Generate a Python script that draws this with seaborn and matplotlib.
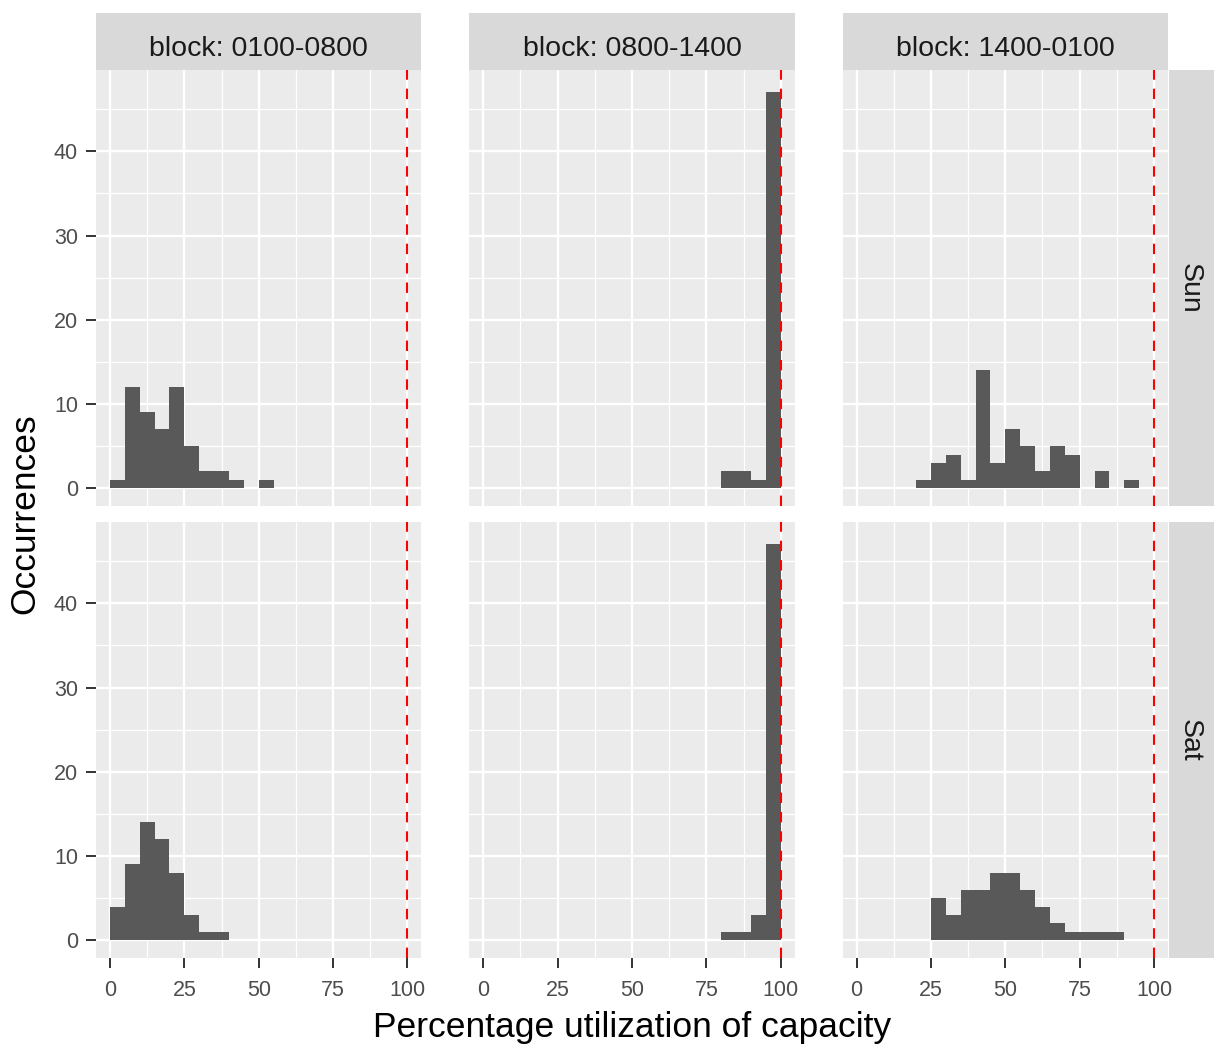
import numpy as np
import pandas as pd
import matplotlib
matplotlib.use("Agg")
import matplotlib.pyplot as plt
from matplotlib.patches import Rectangle
from matplotlib.ticker import MultipleLocator
import seaborn as sns

# Weekly utilisation histograms: counts per 5-point bin (0-100 %)
bin_edges = list(range(0, 105, 5))
blocks = ["0100-0800", "0800-1400", "1400-0100"]
days = ["Sun", "Sat"]

sun_0100_0800 = [1, 12, 9, 7, 12, 5, 2, 2, 1, 0, 1, 0, 0, 0, 0, 0, 0, 0, 0, 0]
sun_0800_1400 = [0, 0, 0, 0, 0, 0, 0, 0, 0, 0, 0, 0, 0, 0, 0, 0, 2, 2, 1, 47]
sun_1400_0100 = [0, 0, 0, 0, 1, 3, 4, 1, 14, 3, 7, 5, 2, 5, 4, 0, 2, 0, 1, 0]
sat_0100_0800 = [4, 9, 14, 12, 8, 3, 1, 1, 0, 0, 0, 0, 0, 0, 0, 0, 0, 0, 0, 0]
sat_0800_1400 = [0, 0, 0, 0, 0, 0, 0, 0, 0, 0, 0, 0, 0, 0, 0, 0, 1, 1, 3, 47]
sat_1400_0100 = [0, 0, 0, 0, 0, 5, 3, 6, 6, 8, 8, 6, 4, 2, 1, 1, 1, 1, 0, 0]

capacity_line = 100
x_ticks = [0, 25, 50, 75, 100]
y_ticks = [0, 10, 20, 30, 40]

counts = {
    ("Sun", "0100-0800"): sun_0100_0800,
    ("Sun", "0800-1400"): sun_0800_1400,
    ("Sun", "1400-0100"): sun_1400_0100,
    ("Sat", "0100-0800"): sat_0100_0800,
    ("Sat", "0800-1400"): sat_0800_1400,
    ("Sat", "1400-0100"): sat_1400_0100,
}

mids = [(a + b) / 2 for a, b in zip(bin_edges[:-1], bin_edges[1:])]
rows = []
for (day, block), vals in counts.items():
    for m, c in zip(mids, vals):
        rows.append({"day": day, "block": block, "util": m, "n": c})
df = pd.DataFrame(rows)

sns.set_theme(style="darkgrid")
plt.rcParams["font.family"] = ["Liberation Sans", "DejaVu Sans"]

W, H = 1214, 1047
g = sns.FacetGrid(df, row="day", col="block", row_order=days, col_order=blocks,
                  sharex=True, sharey=True, despine=False, margin_titles=False)
g.map_dataframe(sns.histplot, x="util", weights="n", bins=bin_edges,
                color="#595959", alpha=1, linewidth=0, edgecolor="none")
g.figure.set_size_inches(W / 100, H / 100)
g.figure.set_dpi(100)
g.set_titles("")
g.set_axis_labels("", "")

left, right, top, bottom = 96 / W, 1168 / W, 1 - 70 / H, 1 - 958 / H
g.figure.subplots_adjust(left=left, right=right, top=top, bottom=bottom,
                         wspace=48 / 326, hspace=16 / 437)

tick_col = "#4D4D4D"
for (ri, ci), ax in np.ndenumerate(g.axes):
    ax.set_facecolor("#EBEBEB")
    for s in ax.spines.values():
        s.set_visible(False)
    ax.set_xlim(-4.7, 104.7)
    ax.set_ylim(-2.1, 49.65)
    ax.xaxis.set_major_locator(plt.FixedLocator(x_ticks))
    ax.xaxis.set_minor_locator(MultipleLocator(12.5))
    ax.yaxis.set_major_locator(plt.FixedLocator(y_ticks))
    ax.yaxis.set_minor_locator(MultipleLocator(5))
    ax.grid(which="major", color="white", linewidth=1.7)
    ax.grid(which="minor", color="white", linewidth=0.9)
    ax.set_axisbelow(True)
    ax.axvline(capacity_line, color="red", linewidth=1.5, dashes=(5, 4.3), zorder=5)
    ax.tick_params(which="minor", length=0)
    ax.tick_params(axis="x", which="major", length=7, width=1.4, color="#333333",
                   labelsize=15.5, labelcolor=tick_col, pad=9,
                   bottom=(ri == 1), labelbottom=(ri == 1))
    ax.tick_params(axis="y", which="major", length=7, width=1.4, color="#333333",
                   labelsize=15.5, labelcolor=tick_col, pad=6,
                   left=(ci == 0), labelleft=(ci == 0))
    ax.set_xlabel("")
    ax.set_ylabel("")

    # column strips on top row
    if ri == 0:
        sh = 57 / 437
        ax.add_patch(Rectangle((0, 1), 1, sh, transform=ax.transAxes,
                               facecolor="#D9D9D9", edgecolor="none", clip_on=False))
        ax.text(0.5, 1 + 21 / 437, f"block: {blocks[ci]}", transform=ax.transAxes,
                ha="center", va="center", fontsize=20.5, color="#1A1A1A")
    # row strips on right column
    if ci == 2:
        sw = 46 / 325
        x0 = 1 + 1 / 325
        ax.add_patch(Rectangle((x0, 0), sw, 1, transform=ax.transAxes,
                               facecolor="#D9D9D9", edgecolor="none", clip_on=False))
        ax.text(x0 + 21 / 325, 0.5, days[ri], transform=ax.transAxes,
                ha="center", va="center", rotation=-90, fontsize=20.5, color="#1A1A1A")

g.figure.text(632 / W, 1 - 1028 / H, "Percentage utilization of capacity",
              ha="center", va="center", fontsize=25.5, color="black")
g.figure.text(25 / W, 1 - 514 / H, "Occurrences", ha="center", va="center",
              rotation=90, fontsize=25.5, color="black")

g.figure.savefig("out.png", dpi=100, facecolor="white")
